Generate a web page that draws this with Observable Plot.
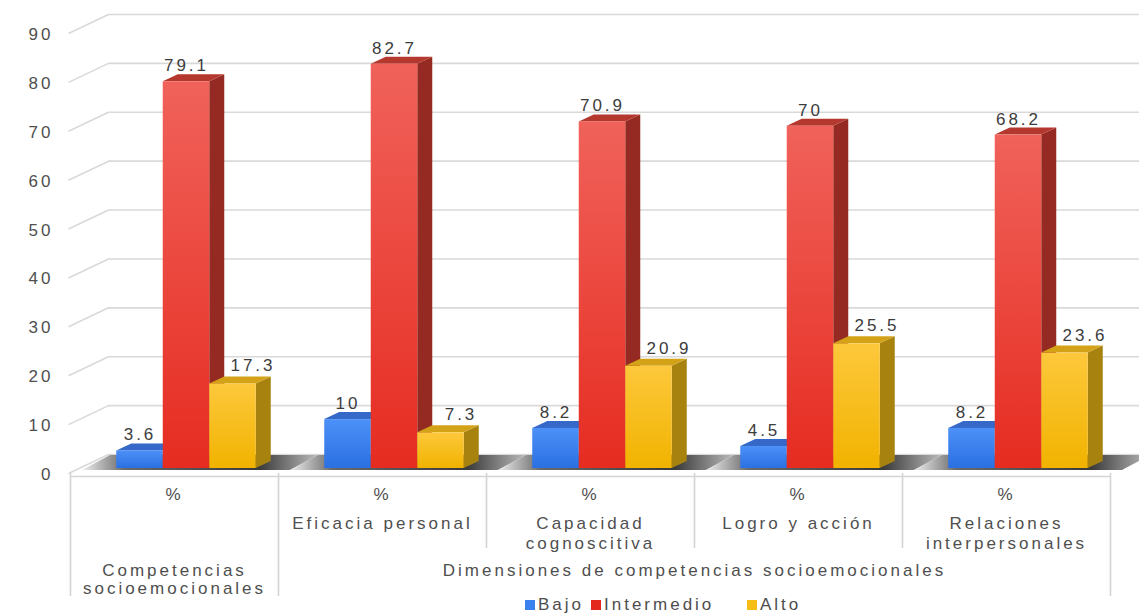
<!DOCTYPE html>
<html>
<head>
<meta charset="utf-8">
<script src="https://cdn.jsdelivr.net/npm/d3@7"></script>
<script src="https://cdn.jsdelivr.net/npm/@observablehq/plot@0.6"></script>
<style>
  html, body { margin: 0; padding: 0; background: #fff; }
  #legend { height: 20px; position: relative; font-family: "Liberation Sans", Arial, sans-serif; font-size: 17px; letter-spacing: 3px; color: #4d4d4d; }
  #legend .item { position: absolute; top: 1px; display: flex; align-items: center; white-space: nowrap; }
  #legend .sw { width: 10px; height: 10px; margin-right: 3px; display: inline-block; }
</style>
</head>
<body>
<div id="chart"></div>
<div id="legend"></div>
<script>
// ---- data ----
const groups = ["Competencias socioemocionales", "Eficacia personal", "Capacidad cognoscitiva", "Logro y acción", "Relaciones interpersonales"];
const series = ["Bajo", "Intermedio", "Alto"];
const bajo = [3.6, 10, 8.2, 4.5, 8.2];
const intermedio = [79.1, 82.7, 70.9, 70, 68.2];
const alto = [17.3, 7.3, 20.9, 25.5, 23.6];
const yTicks = [0, 10, 20, 30, 40, 50, 60, 70, 80, 90];
const unitLabels = ["%", "%", "%", "%", "%"];
const dimensionLabels = ["", "Eficacia personal", "Capacidad\ncognoscitiva", "Logro y acción", "Relaciones\ninterpersonales"];
const parentLabels = ["Competencias\nsocioemocionales", "Dimensiones de competencias socioemocionales"];
const parentSpans = [[0, 1], [1, 5]];

// ---- styling / layout ----
const W = 1139, H = 594, mL = 70, mR = 29, mT = 28, mB = 126;
const pxX = (W - mL - mR) / groups.length;
const pxY = (H - mT - mB) / 90;
const ux = px => px / pxX;
const uy = px => px / pxY;
const BW = ux(46.5), OFF = ux(12), DX = ux(15), DY = uy(7);
const values = [bajo, intermedio, alto];
const sideColors = ["#2d5cb2", "#952a22", "#a8820f"];
const topColors = ["#3568c9", "#b5382e", "#d4a217"];
const legendColors = ["#3a80ee", "#e3281e", "#f6bd16"];
const labelShift = [0, 0, 20];   // px: Alto labels sit right of the bar
const labelLift = [-16, -16, -18];

const bars = [];
series.forEach((s, si) => groups.forEach((g, gi) => {
  const v = values[si][gi];
  const x1 = gi + 0.5 + OFF + (si - 1.5) * BW;
  bars.push({s, si, g, gi, v, x1, x2: x1 + BW, id: si + "-" + gi});
}));
const sides = bars.flatMap(b => [
  {id: b.id, si: b.si, x: b.x2, y1: 0, y2: b.v},
  {id: b.id, si: b.si, x: b.x2 + DX, y1: DY, y2: b.v + DY}
]);
const tops = bars.flatMap(b => [
  {id: b.id, si: b.si, y: b.v, xa: b.x1, xb: b.x2},
  {id: b.id, si: b.si, y: b.v + DY, xa: b.x1 + DX, xb: b.x2 + DX}
]);
const floors = groups.flatMap((g, gi) => [
  {gi, y: -uy(2), xa: gi + ux(12), xb: gi + 1 + ux(12)},
  {gi, y: uy(13), xa: gi + ux(40), xb: gi + 1 + ux(40)}
]);

const barMarks = [];
const labelMarks = [];
series.forEach((s, si) => {
  const sb = bars.filter(d => d.si === si);
  barMarks.push(Plot.areaY(sides.filter(d => d.si === si), {x: "x", y1: "y1", y2: "y2", z: "id", fill: sideColors[si]}));
  barMarks.push(Plot.areaX(tops.filter(d => d.si === si), {y: "y", x1: "xa", x2: "xb", z: "id", fill: topColors[si]}));
  barMarks.push(Plot.rect(sb, {x1: "x1", x2: "x2", y1: 0, y2: "v", fill: `url(#gradFront${si})`}));
  labelMarks.push(Plot.text(sb, {x: d => (d.x1 + d.x2) / 2, y: "v", text: d => String(d.v), dx: labelShift[si], dy: labelLift[si], fill: "#3c3c3c"}));
});

const gridColor = "#d9d9d9";
const tableColor = "#d4d4d4";
const textColor = "#4f4f4f";

const plot = Plot.plot({
  width: W, height: H,
  marginLeft: mL, marginRight: mR, marginTop: mT, marginBottom: mB,
  x: {domain: [0, groups.length], axis: null},
  y: {domain: [0, 90], axis: null},
  style: {fontFamily: "'Liberation Sans', Arial, sans-serif", fontSize: "17px", letterSpacing: "3px", background: "#fff", overflow: "visible"},
  marks: [
    // back wall gridlines and left diagonal
    Plot.ruleY(yTicks, {y: d => d + uy(14), x1: ux(38), x2: ux(W - mL), stroke: gridColor, strokeWidth: 1.6}),
    Plot.link(yTicks, {x1: ux(-2), y1: d => d - uy(5), x2: ux(38), y2: d => d + uy(14), stroke: gridColor, strokeWidth: 1.6}),
    // floor shadow
    Plot.areaX(floors, {y: "y", x1: "xa", x2: "xb", z: "gi", fill: "url(#gradFloor)"}),
    ...barMarks,
    // y tick labels
    Plot.text(yTicks, {x: ux(-17), y: d => d, text: d => String(d), textAnchor: "end", dy: 6, fill: textColor}),
    // value labels
    ...labelMarks,
    // category table
    Plot.ruleY([-uy(8)], {x1: 0, x2: groups.length, stroke: tableColor, strokeWidth: 1.6}),
    Plot.ruleX(d3.range(groups.length + 1), {x: d => d, y1: -uy(5), y2: d => (d === 0 || d === 1 || d === groups.length) ? -uy(128) : -uy(80), stroke: tableColor, strokeWidth: 1.6}),
    Plot.text(unitLabels, {x: (d, i) => i + 0.5, y: 0, text: d => d, lineAnchor: "top", dy: 19, fill: textColor}),
    Plot.text(dimensionLabels, {x: (d, i) => i + 0.5, y: 0, text: d => d, lineAnchor: "top", dy: 47, lineHeight: 1.15, fill: textColor}),
    Plot.text(parentLabels, {x: (d, i) => (parentSpans[i][0] + parentSpans[i][1]) / 2, y: 0, text: d => d, lineAnchor: "top", dy: 94, lineHeight: 1.1, fill: textColor})
  ]
});

plot.insertAdjacentHTML("afterbegin", `
<defs>
  <linearGradient id="gradFront0" x1="0" y1="0" x2="0" y2="1"><stop offset="0" stop-color="#4c90f8"/><stop offset="1" stop-color="#2b70e2"/></linearGradient>
  <linearGradient id="gradFront1" x1="0" y1="0" x2="0" y2="1"><stop offset="0" stop-color="#f0625a"/><stop offset="1" stop-color="#e62c21"/></linearGradient>
  <linearGradient id="gradFront2" x1="0" y1="0" x2="0" y2="1"><stop offset="0" stop-color="#fdc83c"/><stop offset="1" stop-color="#f1b300"/></linearGradient>
  <linearGradient id="gradFloor" x1="0" y1="0" x2="1" y2="0">
    <stop offset="0" stop-color="#eeeeee"/><stop offset="0.18" stop-color="#6a6a6a"/>
    <stop offset="0.75" stop-color="#3a3a3a"/><stop offset="1" stop-color="#bcbcbc"/>
  </linearGradient>
</defs>`);
document.getElementById("chart").appendChild(plot);

// legend
const legend = document.getElementById("legend");
const legendX = [525, 591, 747];
series.forEach((s, i) => {
  const item = document.createElement("div");
  item.className = "item";
  item.style.left = legendX[i] + "px";
  item.innerHTML = `<span class="sw" style="background:${legendColors[i]}"></span><span>${s}</span>`;
  legend.appendChild(item);
});
</script>
</body>
</html>
